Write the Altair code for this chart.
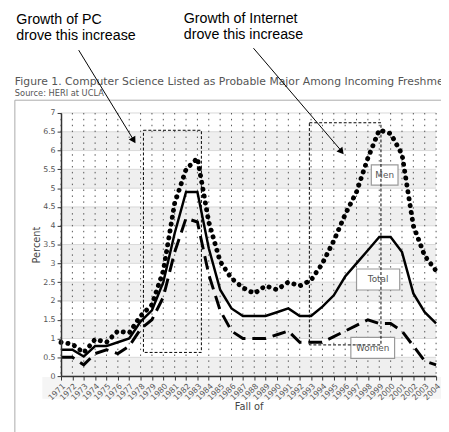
import altair as alt
import pandas as pd

years = list(range(1971, 2005))
men = [0.9, 0.85, 0.62, 0.98, 0.9, 1.2, 1.15, 1.6, 1.9, 2.8,
       4.6, 5.5, 5.8, 4.1, 3.05, 2.6, 2.35, 2.2, 2.4, 2.3,
       2.5, 2.4, 2.55, 3.0, 3.6, 4.3, 4.9, 5.8, 6.55, 6.45,
       5.9, 4.0, 3.2, 2.8]
total = [0.7, 0.7, 0.52, 0.8, 0.8, 0.9, 1.0, 1.45, 1.75, 2.5,
         3.8, 4.9, 4.9, 3.4, 2.3, 1.8, 1.6, 1.6, 1.6, 1.7,
         1.8, 1.6, 1.6, 1.85, 2.15, 2.65, 3.0, 3.35, 3.7, 3.7,
         3.3, 2.2, 1.7, 1.4]
women = [0.5, 0.5, 0.3, 0.6, 0.7, 0.6, 0.8, 1.25, 1.5, 2.1,
         3.3, 4.2, 4.1, 2.7, 1.75, 1.2, 1.0, 1.0, 1.0, 1.1,
         1.2, 0.9, 0.9, 0.9, 1.05, 1.2, 1.35, 1.5, 1.4, 1.4,
         1.2, 0.8, 0.4, 0.3]

y_ticks = [i * 0.5 for i in range(15)]
band_lo = [0, 1, 2, 3, 4, 5, 6]
band_hi = [0.5, 1.5, 2.5, 3.5, 4.5, 5.5, 6.5]

# highlighted periods (dashed boxes)
box_x0 = [1978.25, 1992.85]
box_x1 = [1983.35, 1999.15]
box_y0 = [0.63, 0.83]
box_y1 = [6.54, 6.74]

# series labels
lab_text = ["Men", "Total", "Women"]
lab_x0 = [1998.3, 1997.0, 1996.5]
lab_x1 = [2000.65, 2000.8, 2000.35]
lab_y0 = [5.08, 2.29, 0.47]
lab_y1 = [5.62, 2.85, 1.03]

title_text = "Figure 1. Computer Science Listed as Probable Major Among Incoming Freshmen"
source_text = "Source: HERI at UCLA"
note1 = ["Growth of PC", "drove this increase"]
note2 = ["Growth of Internet", "drove this increase"]

W, H = 382, 268
FONT = "DejaVu Sans"

xs = alt.Scale(domain=[1971, 2004], nice=False, zero=False)
ys = alt.Scale(domain=[0, 7], nice=False)

x_axis = alt.Axis(values=years, format="d", labelAngle=-45, labelFontSize=8, labelFont=FONT,
                  labelColor="#555555", labelOverlap=False, labelFlush=False, labelPadding=2,
                  tickColor="#333333", tickSize=4, domainColor="#333333", domainWidth=1.5,
                  grid=False, title="Fall of", titleFont=FONT, titleFontSize=10,
                  titleFontWeight="normal", titleColor="#444444", titleY=31,
                  titleBaseline="middle", zindex=1)
y_axis = alt.Axis(values=y_ticks, format="~g", labelFontSize=8, labelFont=FONT,
                  labelColor="#555555", labelFlush=False, labelPadding=2,
                  tickColor="#333333", tickSize=4, domainColor="#333333", domainWidth=1.5,
                  grid=False, title="Percent", titleFont=FONT, titleFontSize=10,
                  titleFontWeight="normal", titleColor="#444444", titleX=-25, titleY=H / 2,
                  titleAngle=-90, titleBaseline="middle", titleAlign="center", zindex=1)


def X(field):
    return alt.X(field, scale=xs, axis=x_axis)


def Y(field):
    return alt.Y(field, scale=ys, axis=y_axis)


df = pd.DataFrame({"year": years, "men": men, "total": total, "women": women})
bands = pd.DataFrame({"lo": band_lo, "hi": band_hi})
hgrid = pd.DataFrame({"v": y_ticks})
vgrid = pd.DataFrame({"year": years})
boxes = pd.DataFrame({"x0": box_x0, "x1": box_x1, "y0": box_y0, "y1": box_y1})
labs = pd.DataFrame({"t": lab_text, "x0": lab_x0, "x1": lab_x1, "y0": lab_y0, "y1": lab_y1})
labs["xm"] = (labs["x0"] + labs["x1"]) / 2
labs["ym"] = (labs["y0"] + labs["y1"]) / 2

one = pd.DataFrame({"k": [0]})

frame = alt.Chart(one).mark_rect(fill="white", stroke="#aaaaaa", strokeWidth=1).encode(
    x=alt.value(-47), x2=alt.value(420), y=alt.value(-13), y2=alt.value(340))
strip = alt.Chart(one).mark_rect(fill="#f5f5f5").encode(
    x=alt.value(-19), x2=alt.value(400), y=alt.value(269), y2=alt.value(291))

band_layer = alt.Chart(bands).mark_rect(fill="#efefef").encode(
    x=alt.value(0), x2=alt.value(W), y=Y("lo:Q"), y2="hi:Q")
hgrid_layer = alt.Chart(hgrid).mark_rule(color="#d8d8d8", strokeWidth=1).encode(y=Y("v:Q"))
vgrid_layer = alt.Chart(vgrid).mark_rule(color="#555555", strokeWidth=1,
                                         strokeDash=[1.5, 4.5]).encode(x=X("year:Q"))

total_line = alt.Chart(df).mark_line(color="black", strokeWidth=2.5).encode(
    x=X("year:Q"), y=Y("total:Q"))
men_line = alt.Chart(df).mark_line(color="black", strokeWidth=5, strokeDash=[0.1, 7],
                                   strokeCap="round").encode(x=X("year:Q"), y=Y("men:Q"))
women_line = alt.Chart(df).mark_line(color="black", strokeWidth=3, strokeDash=[14, 7]).encode(
    x=X("year:Q"), y=Y("women:Q"))

lab_boxes = alt.Chart(labs).mark_rect(fill="white", stroke="#999999", strokeWidth=1.2).encode(
    x=X("x0:Q"), x2="x1:Q", y=Y("y0:Q"), y2="y1:Q")
lab_txt = alt.Chart(labs).mark_text(font=FONT, fontSize=9, color="#555555").encode(
    x=X("xm:Q"), y=Y("ym:Q"), text="t:N")

dash_boxes = alt.Chart(boxes).mark_rect(fill="transparent", stroke="black", strokeWidth=1,
                                        strokeDash=[3, 2]).encode(
    x=X("x0:Q"), x2="x1:Q", y=Y("y0:Q"), y2="y1:Q")


def txt(s, x, y, size, font, color):
    return alt.Chart(pd.DataFrame({"t": [s]})).mark_text(
        font=font, fontSize=size, color=color, align="left", baseline="alphabetic").encode(
        x=alt.value(x), y=alt.value(y), text="t:N")


title_l = txt(title_text, -47, -28, 11, FONT, "#555555")
source_l = txt(source_text, -47, -17.5, 8.4, FONT, "#555555")
n1a = txt(note1[0], -45.5, -90.3, 14.5, "Liberation Sans", "black")
n1b = txt(note1[1], -45.5, -74.3, 14.5, "Liberation Sans", "black")
n2a = txt(note2[0], 125, -91.5, 14.5, "Liberation Sans", "black")
n2b = txt(note2[1], 125, -75.5, 14.5, "Liberation Sans", "black")

arrow1 = alt.Chart(one).mark_rule(color="black", strokeWidth=1).encode(
    x=alt.value(18), y=alt.value(-64), x2=alt.value(73), y2=alt.value(26))
head1 = alt.Chart(one).mark_point(shape="triangle", filled=True, color="black", size=60,
                                  opacity=1, angle=148.6).encode(
    x=alt.value(73.5), y=alt.value(27))
arrow2 = alt.Chart(one).mark_rule(color="black", strokeWidth=1).encode(
    x=alt.value(196), y=alt.value(-66), x2=alt.value(285), y2=alt.value(38))
head2 = alt.Chart(one).mark_point(shape="triangle", filled=True, color="black", size=60,
                                  opacity=1, angle=140.4).encode(
    x=alt.value(285), y=alt.value(38.5))

chart = alt.layer(
    frame, strip, band_layer, hgrid_layer, vgrid_layer,
    total_line, men_line, women_line,
    lab_boxes, dash_boxes, lab_txt,
    title_l, source_l, n1a, n1b, n2a, n2b,
    arrow1, head1, arrow2, head2,
).properties(
    width=W, height=H,
    autosize=alt.AutoSizeParams(type="none"),
    padding={"left": 54, "top": 103, "right": 5, "bottom": 53},
).configure_view(stroke=None).configure(background="white")

chart.save("out.html", embed_options={"renderer": "svg", "actions": False})
